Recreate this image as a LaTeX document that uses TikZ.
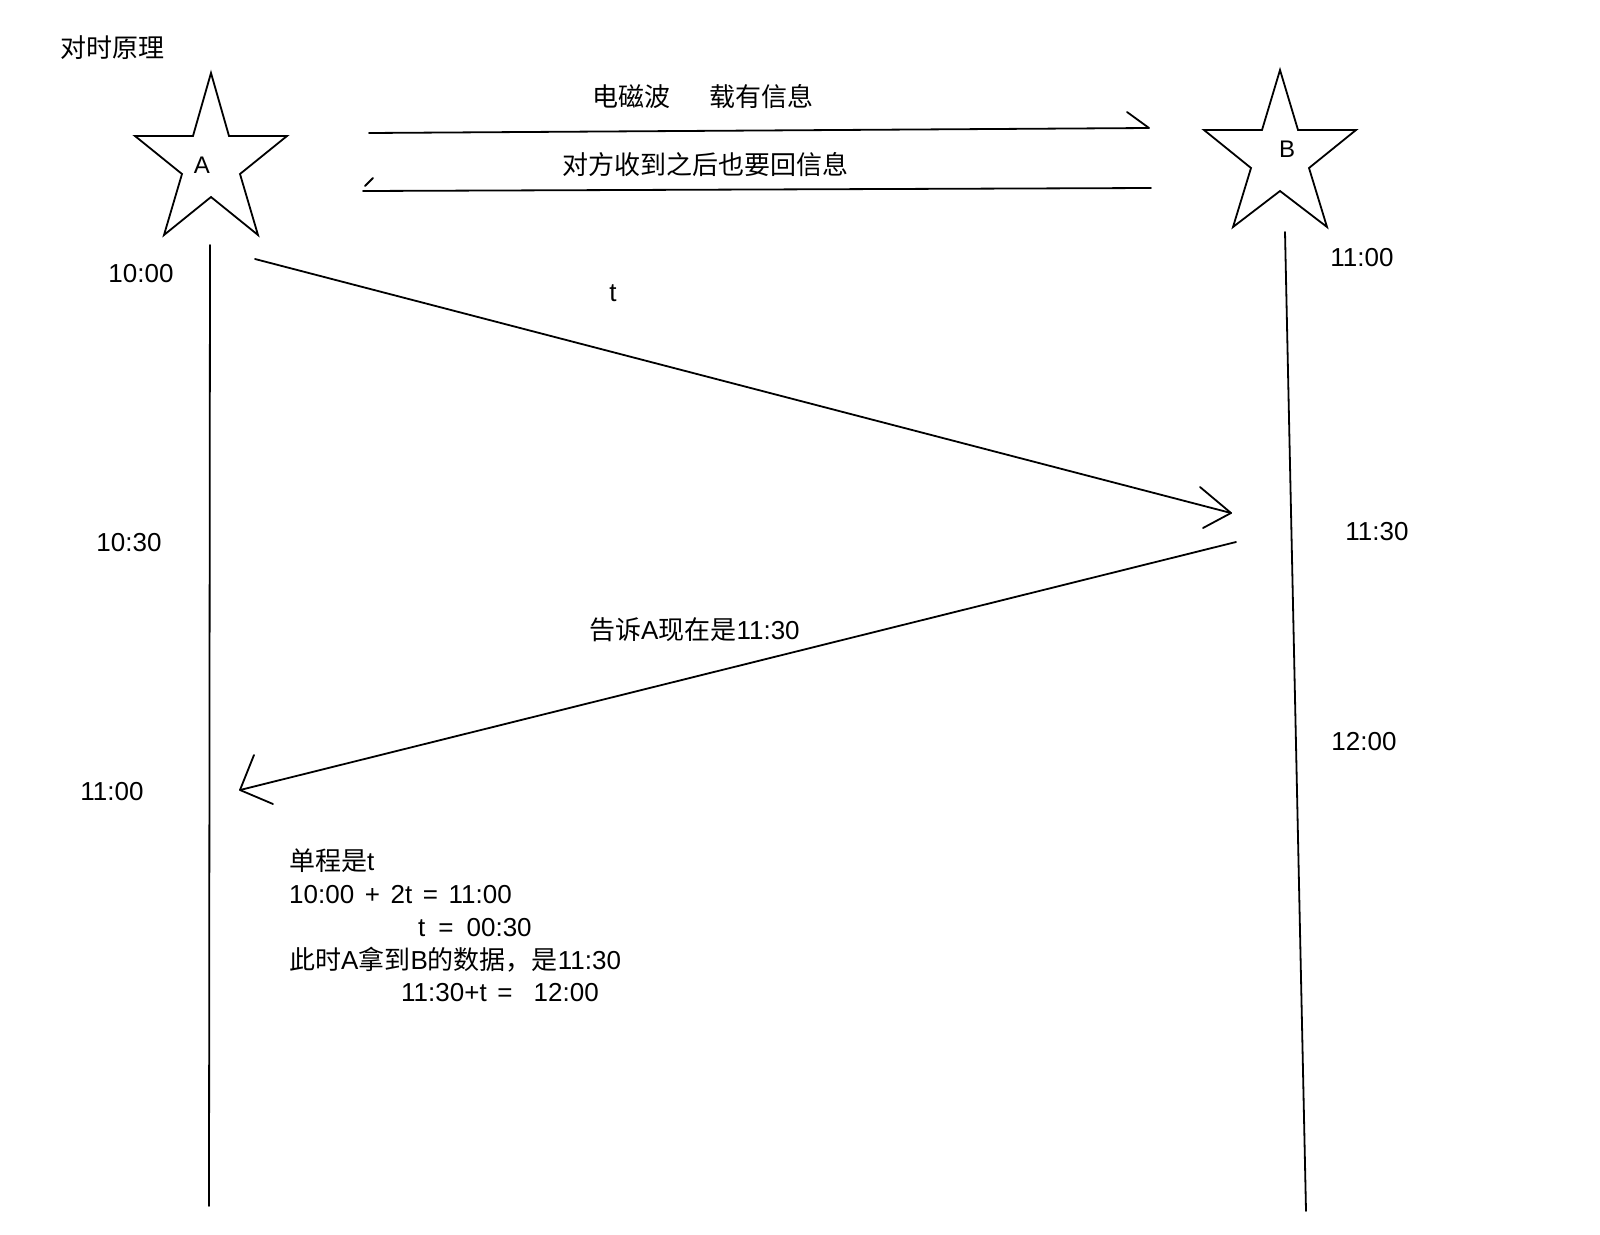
\documentclass[tikz,border=0pt]{standalone}
\usepackage{fontspec}
\setmainfont{Liberation Sans}
\newfontfamily\cjk{Noto Sans CJK SC}
\newcommand\wsp{\hspace{10.6pt}}
\begin{document}
\begin{tikzpicture}[x=1pt,y=-1pt,
  lbl/.style={inner sep=0pt, font=\fontsize{26}{30}\selectfont},
  bw/.style={lbl, anchor=base west},
  bc/.style={lbl, anchor=base},
  starline/.style={line width=1.8pt, line join=miter},
  conn/.style={line width=1.8pt, line cap=round, line join=round}]
\useasboundingbox (0,0) rectangle (1600,1234);

% title
\node[bw] (title) at (60,57.5) {\cjk 对时原理};

% star A
\draw[starline] (211,73) -- (229,136) -- (287,136) -- (240,174) -- (258,235) -- (211,197)
  -- (164,235) -- (182,174) -- (135,136) -- (193,136) -- cycle;
\node[bc, font=\fontsize{24}{28}\selectfont] (A) at (202,173) {A};

% star B
\draw[starline] (1280,70) -- (1298,130) -- (1356,130) -- (1309,168) -- (1327,227) -- (1280,191)
  -- (1233,227) -- (1251,168) -- (1204,130) -- (1262,130) -- cycle;
\node[bc, font=\fontsize{24}{28}\selectfont] (B) at (1287,157.5) {B};

% top arrows
\coordinate (m1s) at (369,133);
\coordinate (m1e) at (1149,128);
\coordinate (m1b) at (1127,112);
\draw[conn] (m1s) -- (m1e) -- (m1b);
\node[bw] (em) at (592,106) {\cjk 电磁波\hspace{39pt}载有信息};

\coordinate (m2s) at (1151,188);
\coordinate (m2e) at (363,191);
\coordinate (m2b1) at (365,186);
\coordinate (m2b2) at (373,178);
\draw[conn] (m2s) -- (m2e);
\draw[conn] (m2b1) -- (m2b2);
\node[bw] (reply) at (562,174) {\cjk 对方收到之后也要回信息};

% timelines
\coordinate (a0) at (210,245);
\coordinate (a1) at (209,1206);
\coordinate (b0) at (1285,232);
\coordinate (b1) at (1306,1211);
\draw[conn] (a0) -- (a1);
\draw[conn] (b0) -- (b1);

% A -> B
\coordinate (s1) at (255,259);
\coordinate (t1) at (1231,513);
\coordinate (t1u) at (1200,487);
\coordinate (t1d) at (1203,528);
\draw[conn] (s1) -- (t1);
\draw[conn] (t1u) -- (t1) -- (t1d);
\node[bc] (tl) at (613,301.5) {t};

% B -> A
\coordinate (s2) at (1236,542);
\coordinate (t2) at (240,790);
\coordinate (t2u) at (254,755);
\coordinate (t2d) at (273,804);
\draw[conn] (s2) -- (t2);
\draw[conn] (t2u) -- (t2) -- (t2d);
\node[bw] (tell) at (589,639.5) {{\cjk 告诉}A{\cjk 现在是}11:30};

% time labels
\node[bc] (ta1) at (141,282.5) {10:00};
\node[bc] (ta2) at (129,551.5) {10:30};
\node[bc] (ta3) at (112,800.5) {11:00};
\node[bc] (tb1) at (1362,266.5) {11:00};
\node[bc] (tb2) at (1377,540.5) {11:30};
\node[bc] (tb3) at (1364,750.5) {12:00};

% calculation block
\node[bw] (c1) at (289,870.5) {{\cjk 单程是}t};
\node[bw] (c2) at (289,903.5) {10:00\wsp+\wsp2t\wsp=\wsp11:00};
\node[bw] (c3) at (418,936.5) {t\hspace{13pt}=\hspace{13pt}00:30};
\node[bw] (c4) at (289,969.5) {{\cjk 此时}A{\cjk 拿到}B{\cjk 的数据，是}11:30};
\node[bw] (c5) at (401,1001.5) {11:30+t\wsp=\wsp\wsp12:00};
\end{tikzpicture}
\end{document}
